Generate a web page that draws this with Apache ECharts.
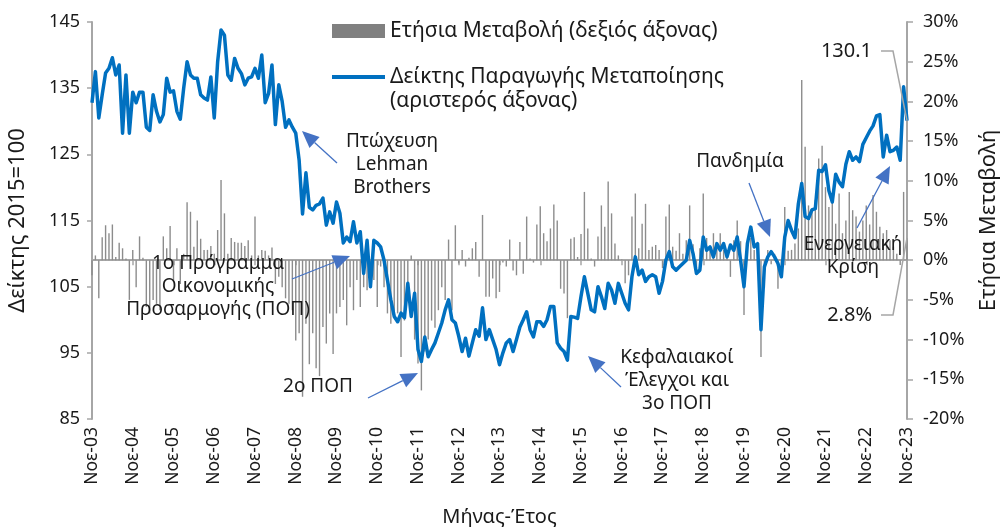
<!DOCTYPE html>
<html>
<head>
<meta charset="utf-8">
<script src="https://cdn.jsdelivr.net/npm/echarts/dist/echarts.min.js"></script>
<style>
  html, body { margin: 0; padding: 0; background: #fff; }
  #chart { width: 1000px; height: 527px; }
</style>
</head>
<body>
<div id="chart"></div>
<script>
// month names used to build the category labels (Nov-03 .. Nov-23)
const monthNames = ['Ιαν', 'Φεβ', 'Μαρ', 'Απρ', 'Μαϊ', 'Ιουν', 'Ιουλ', 'Αυγ', 'Σεπ', 'Οκτ', 'Νοε', 'Δεκ'];
const startYear = 2003, startMonth = 10, monthCount = 241;

// Δείκτης Παραγωγής Μεταποίησης (2015=100), monthly from Nov-03
const indexValues = [
  132.8, 137.5, 130.5, 134, 137.3, 138, 139.6, 137, 138.5, 128.2, 137, 128.2,
  134.4, 132.8, 134.4, 134.4, 129.1, 128.6, 134, 131.5, 129.9, 131, 136.5, 134.4,
  134.6, 131.5, 130.3, 135, 139, 137, 136.5, 136.5, 134, 133.5, 133.2, 136.7,
  130.5, 139, 143.8, 143, 137, 136.2, 139.5, 138, 137.2, 135.5, 136.5, 136.7,
  138, 136.5, 140, 132.8, 134.2, 138.5, 129.5, 135.5, 133, 129.1, 130.2, 129.1,
  128.2, 124.1, 116, 122.2, 117, 116.6, 117.3, 117.5, 118.4, 114.3, 116.3, 114.6,
  117.8, 116.1, 111.6, 112.5, 111.8, 114.8, 111.6, 113.3, 107, 112, 105, 112,
  111.6, 111, 109, 106, 103, 100.5, 99.7, 101, 100.3, 105.5, 100.5, 104,
  95.5, 93.7, 97.4, 94.4, 95.5, 96.5, 98, 99.5, 101.5, 103, 100, 99.5,
  97.5, 95.2, 97.2, 94.5, 96.5, 98.5, 97.5, 101.8, 97, 98.5, 97, 95.5,
  93.2, 95, 96.5, 97, 95.2, 97, 98.9, 100, 101.2, 98.5, 97.4, 99.7,
  99.7, 99, 100, 102, 102, 96.5, 95.7, 95.2, 93.9, 100.5, 100.4, 100.2,
  103.5, 106.5, 104, 101.5, 101.2, 105, 103.5, 101.7, 105.5, 104.5, 102.5, 105.5,
  104, 102.5, 101.5, 106.5, 109.5, 106.8, 107.5, 105.8, 106.5, 106.8, 106.5, 104,
  105.8, 109, 110.3, 108, 107.5, 108, 108.5, 109, 112, 110, 107, 107.5,
  112.5, 110.5, 111, 109.5, 111.5, 110.5, 111.5, 109.5, 111.3, 110.5, 112.5, 109,
  105, 111.5, 114, 111, 111.5, 98.5, 108, 109.5, 110.3, 109.5, 108.5, 106.5,
  112.5, 115, 113.5, 112.4, 117.5, 120.6, 115.6, 115.3, 116.6, 116.8, 122.6, 122.4,
  123.4, 119.5, 117.8, 122, 120.8, 120.1, 123.5, 125.4, 124.1, 124.6, 123.9, 126.5,
  127.5, 128.5, 129.3, 130.8, 131, 124.6, 127.9, 125.4, 125.6, 126.1, 124.1, 135.2,
  130.1
];

// Ετήσια Μεταβολή (%), monthly from Nov-03
const yoyChange = [
  -1.9, 0.6, -4.8, 2.9, 4.4, 3.4, 4.5, 0.4, 2.2, 1.5, 0.2, -5,
  1.3, -3.4, 3, 0.3, -5.9, -6.7, -5, -5.5, -6.3, 3, 1.5, 4.3,
  -2.5, 1.5, -3, 0.8, 7.3, 6.1, 1.7, 5, 2.7, 1.3, 1.3, 1.8,
  0.8, 3.8, 10.1, 5.9, 0.8, 2.8, 2.3, 2.2, 2.2, 1.8, 2.5, 0.6,
  5.5, 0.6, 1.3, 1.2, 0.6, 1.6, -3, -2.1, -3.4, -4.8, -5.5, -6.3,
  -10.1, -9.2, -17.2, -8, -13.1, -9.2, -13.6, -14.6, -8.4, -10.5, -6.7, -11.8,
  -6.7, -5.9, -5, -8.2, -3.4, -6.3, -2.5, -5.9, -3.4, -3.8, -0.8, -2.5,
  -5.9, -0.8, -3.4, -6.7, -8, -6.7, -6.7, -12.2, -7.6, -4.6, 0.6, -10,
  -13, -16.4, -11.5, -10, -7.6, -8.5, -6.3, -3.4, -5, 2.6, -6.3, 4.4,
  -0.4, 1.3, -0.8, 0.3, 1.5, 2.3, -2.1, 5.7, -4.6, -4.6, -2.3, -4.8,
  -4, -0.3, -0.8, 2.6, -1.3, -1.9, 2.3, -1.7, 5.5, 0.2, -0.3, 4.5,
  6.8, 3.4, 2.4, 4, 7, 5, -3.6, -4.2, -7.3, 2.7, 2.9, 0.4,
  3.3, 8.6, 4, 0.2, -0.8, 3, 6.9, 4.2, 9.9, 5.9, 2.1, 0.6,
  0.1, -2.9, -1.9, 5.5, 8.4, 1.5, 4.6, 7.1, 1.3, 1.7, 1.9, 1.3,
  -1, 5.5, 7, 1.7, 1.2, 3.4, 0.8, 2.5, 6.9, 2, -1, 1.5,
  8.4, 2.8, 1.3, 3.4, 2.1, 3.4, 1.3, 0.8, -2.1, 2.5, 5, 2.4,
  -6.9, 1.5, 2.8, 1.3, 0.5, -12.2, -3.5, 1.3, -0.5, 0.8, -3.6, -1.2,
  6.7, 1.2, 1.3, 2.1, 4, 22.7, 14.3, 6.9, 6.5, 7.6, 12.8, 14.4,
  9.2, 6.7, 7.3, 4.6, 8.4, 3.4, 5, 8.6, 6.3, 5.5, 3.6, 5,
  6.9, 4.5, 8.2, 6.1, 4.2, 3.4, 3.8, 2.5, 1.7, 0.8, -0.6, 8.6,
  2.8
];

const categories = [];
for (let i = 0; i < monthCount; i++) {
  const m = (startMonth + i) % 12;
  const y = startYear + Math.floor((startMonth + i) / 12);
  categories.push(monthNames[m] + '-' + String(y % 100).padStart(2, '0'));
}

const FONT = '"Noto Sans", sans-serif';
const TXT = '#1a1a1a';
const AXIS = '#a6a6a6';
const ARROW = '#4472c4';
const showYearTick = idx => idx % 12 === 0;

var myChart = echarts.init(document.getElementById('chart'));

// arrow = line + triangle head pointing at (x2, y2)
function arrow(x1, y1, x2, y2) {
  const dx = x2 - x1, dy = y2 - y1, len = Math.sqrt(dx * dx + dy * dy);
  const ux = dx / len, uy = dy / len, h = 17, w = 7.5;
  const bx = x2 - ux * h, by = y2 - uy * h;
  return [
    { type: 'line', z: 50, shape: { x1: x1, y1: y1, x2: bx, y2: by }, style: { stroke: ARROW, lineWidth: 1.3 } },
    { type: 'polygon', z: 50, shape: { points: [[x2, y2], [bx - uy * w, by + ux * w], [bx + uy * w, by - ux * w]] }, style: { fill: ARROW } }
  ];
}

function note(x, y, text) {
  return { type: 'text', z: 50, x: x, y: y, style: { text: text, fill: TXT, font: '19px ' + FONT, textAlign: 'center', textVerticalAlign: 'top', lineHeight: 23 } };
}

const option = {
  animation: false,
  backgroundColor: '#fff',
  textStyle: { fontFamily: FONT },
  grid: { left: 92, right: 93, top: 22, bottom: 108, outerBoundsMode: 'none', containLabel: false },
  xAxis: {
    type: 'category',
    data: categories,
    boundaryGap: false,
    name: 'Μήνας-Έτος',
    nameLocation: 'middle',
    nameGap: 88,
    nameTextStyle: { color: TXT, fontSize: 20, fontFamily: FONT },
    axisLine: { lineStyle: { color: AXIS, width: 2 } },
    axisTick: { interval: showYearTick, length: 5, lineStyle: { color: AXIS, width: 1.5 } },
    axisLabel: { interval: showYearTick, rotate: 90, color: TXT, fontSize: 17.5, margin: 8, fontFamily: FONT }
  },
  yAxis: [
    {
      type: 'value', min: 85, max: 145, interval: 10,
      name: 'Δείκτης 2015=100', nameLocation: 'middle', nameRotate: 90, nameGap: 63,
      nameTextStyle: { color: TXT, fontSize: 22, fontFamily: FONT },
      axisLine: { show: true, lineStyle: { color: AXIS, width: 2 } },
      axisTick: { show: true, length: 5, lineStyle: { color: AXIS, width: 1.5 } },
      axisLabel: { color: TXT, fontSize: 18, margin: 12, fontFamily: FONT },
      splitLine: { show: false }
    },
    {
      type: 'value', min: -20, max: 30, interval: 5, position: 'right',
      name: 'Ετήσια Μεταβολή', nameLocation: 'middle', nameRotate: 90, nameGap: 71,
      nameTextStyle: { color: TXT, fontSize: 22, fontFamily: FONT },
      axisLine: { show: true, lineStyle: { color: AXIS, width: 2 } },
      axisTick: { show: true, length: 6, lineStyle: { color: AXIS, width: 1.5 } },
      axisLabel: { color: TXT, fontSize: 18, margin: 16, formatter: '{value}%', fontFamily: FONT },
      splitLine: { show: false }
    }
  ],
  series: [
    {
      name: 'Ετήσια Μεταβολή (δεξιός άξονας)',
      type: 'bar',
      yAxisIndex: 1,
      data: yoyChange,
      barWidth: 1.4,
      itemStyle: { color: '#8c8c8c' },
      z: 2
    },
    {
      name: 'Δείκτης Παραγωγής Μεταποίησης (αριστερός άξονας)',
      type: 'line',
      yAxisIndex: 0,
      data: indexValues,
      symbol: 'none',
      lineStyle: { color: '#0070c0', width: 3.5, join: 'round' },
      z: 5
    }
  ]
};

myChart.setOption(option);

// leader lines for the last values, ends taken from the axes
const last = monthCount - 1;
const pLine = myChart.convertToPixel({ seriesIndex: 1 }, [last, indexValues[last]]);
const pBar = myChart.convertToPixel({ seriesIndex: 0 }, [last, yoyChange[last]]);

const graphics = [
  // legend
  { type: 'rect', shape: { x: 332, y: 24, width: 53, height: 14 }, style: { fill: '#808080' } },
  { type: 'text', x: 390, y: 31, style: { text: 'Ετήσια Μεταβολή (δεξιός άξονας)', fill: TXT, font: '21px ' + FONT, textVerticalAlign: 'middle' } },
  { type: 'line', shape: { x1: 332, y1: 77, x2: 385, y2: 77 }, style: { stroke: '#0070c0', lineWidth: 4 } },
  { type: 'text', x: 390, y: 77, style: { text: 'Δείκτης Παραγωγής Μεταποίησης', fill: TXT, font: '21px ' + FONT, textVerticalAlign: 'middle' } },
  { type: 'text', x: 390, y: 101, style: { text: '(αριστερός άξονας)', fill: TXT, font: '21px ' + FONT, textVerticalAlign: 'middle' } },
  // annotations
  note(392, 130, 'Πτώχευση\nLehman\nBrothers'),
  note(218, 252, '1ο Πρόγραμμα\nΟικονομικής\nΠροσαρμογής (ΠΟΠ)'),
  note(318, 375, '2ο ΠΟΠ'),
  note(677, 346, 'Κεφαλαιακοί\nΈλεγχοι και\n3ο ΠΟΠ'),
  note(740, 150, 'Πανδημία'),
  note(853, 233, 'Ενεργειακή\nΚρίση'),
  { type: 'text', z: 50, x: 872, y: 51, style: { text: '130.1', fill: TXT, font: '20px ' + FONT, textAlign: 'right', textVerticalAlign: 'middle' } },
  { type: 'text', z: 50, x: 872, y: 315, style: { text: '2.8%', fill: TXT, font: '20px ' + FONT, textAlign: 'right', textVerticalAlign: 'middle' } },
  { type: 'polyline', z: 50, shape: { points: [[881, 51], [893, 51], pLine] }, style: { stroke: AXIS, lineWidth: 1.5, fill: null } },
  { type: 'polyline', z: 50, shape: { points: [[881, 315], [893, 315], pBar] }, style: { stroke: AXIS, lineWidth: 1.5, fill: null } }
]
  .concat(arrow(337, 163, 302, 131))
  .concat(arrow(292, 279, 350, 256))
  .concat(arrow(368, 398, 418, 373))
  .concat(arrow(621, 387, 588, 356))
  .concat(arrow(749, 183, 770, 237))
  .concat(arrow(857, 228, 890, 166));

myChart.setOption({ graphic: graphics });
</script>
</body>
</html>
